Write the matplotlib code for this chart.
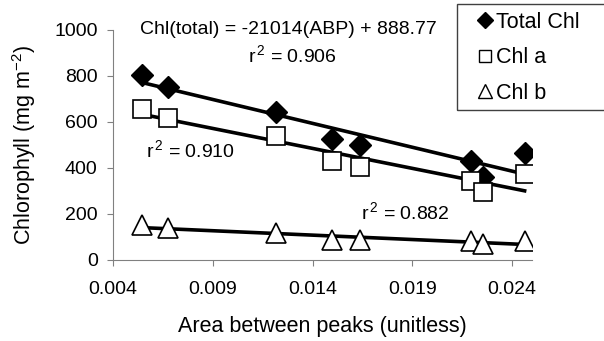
import matplotlib
matplotlib.use("Agg")
import matplotlib.pyplot as plt
from matplotlib.lines import Line2D
from matplotlib.patches import Rectangle
import numpy as np

plt.rcParams['font.family'] = ['Liberation Sans', 'DejaVu Sans']
plt.rcParams['mathtext.fontset'] = 'custom'
plt.rcParams['mathtext.rm'] = 'Liberation Sans'
plt.rcParams['mathtext.it'] = 'Liberation Sans'
plt.rcParams['mathtext.default'] = 'regular'

# data
abp = [0.00544, 0.00677, 0.01218, 0.01497, 0.01640, 0.02193, 0.02252, 0.02463]
chl_total = [804, 753, 645, 526, 500, 432, 362, 464]
chl_a = [655, 616, 539, 432, 403, 345, 297, 372]
chl_b = [152, 138, 116, 87, 87, 83, 70, 83]
series_names = ['Total Chl', 'Chl a', 'Chl b']

xticks = [0.004, 0.009, 0.014, 0.019, 0.024]
yticks = [0, 200, 400, 600, 800, 1000]

fig = plt.figure(figsize=(6.04, 3.41), dpi=100)
ax = fig.add_axes([113/604, 1-260/341, (532-113)/604, (260-30)/341])

# linear trend lines
x = np.array(abp)
xx = np.array([x.min(), x.max()])
for y in (chl_total, chl_a, chl_b):
    m, b = np.polyfit(x, np.array(y), 1)
    ax.plot(xx, m*xx + b, color='black', lw=2.6, zorder=2)

ax.plot(abp, chl_total, 'D', ms=11, mfc='black', mec='black', zorder=3)
ax.plot(abp, chl_a, 's', ms=13.5, mfc='white', mec='black', mew=1.2, zorder=3)
ax.plot(abp, chl_b, '^', ms=15, mfc='white', mec='black', mew=1.2, zorder=3)

ax.set_xlim(0.004, 0.025)
ax.set_ylim(0, 1000)
ax.set_xticks(xticks)
ax.set_xticklabels(['%.3f' % t for t in xticks])
ax.set_yticks(yticks)
ax.tick_params(labelsize=14, length=4, color='#808080', direction='out')
ax.tick_params(axis='x', pad=11)
ax.tick_params(axis='y', pad=7)
for s in ('top', 'right'):
    ax.spines[s].set_visible(False)
for s in ('left', 'bottom'):
    ax.spines[s].set_color('#808080')
ax.set_xlabel('Area between peaks (unitless)', fontsize=15.5, labelpad=13)
ax.set_ylabel('Chlorophyll (mg m$^{-2}$)', fontsize=15.5, labelpad=12)

# annotations
fig.text(288/604, 1-30/341, 'Chl(total) = -21014(ABP) + 888.77', fontsize=14,
         ha='center', va='center')
fig.text(292/604, 1-55/341, 'r$^{\\,2}$ = 0.906', fontsize=14, ha='center', va='center')
fig.text(190/604, 1-150/341, 'r$^{\\,2}$ = 0.910', fontsize=14, ha='center', va='center')
fig.text(405/604, 1-212/341, 'r$^{\\,2}$ = 0.882', fontsize=14, ha='center', va='center')

handles = [
    Line2D([], [], ls='none', marker='D', ms=8, mfc='black', mec='black'),
    Line2D([], [], ls='none', marker='s', ms=8.5, mfc='white', mec='black', mew=1),
    Line2D([], [], ls='none', marker='^', ms=10.5, mfc='white', mec='black', mew=1),
]
leg = fig.legend(handles, series_names, loc='upper left',
                 bbox_to_anchor=(457/604, 1-4/341), fontsize=15.5, frameon=False,
                 borderpad=0.35, handletextpad=-0.45,
                 handlelength=1.9, labelspacing=0.68, borderaxespad=0)
# legend box runs off the right edge in the original
fig.patches.append(Rectangle((457/604, 1-110/341), 160/604, 106/341,
                             transform=fig.transFigure, fill=False,
                             edgecolor='#404040', lw=1.0))

fig.savefig('out.png', dpi=100)
